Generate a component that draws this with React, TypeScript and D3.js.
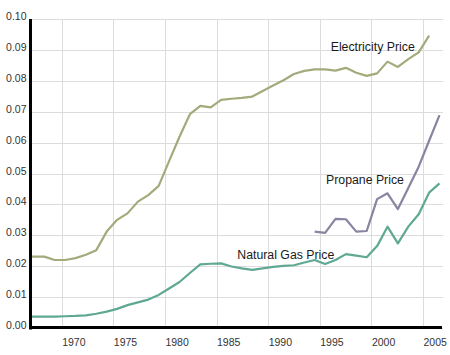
import React from "react";
import * as d3 from "d3";

const elecStart = 1966;
const elecValues = [
  0.0231, 0.0231, 0.0231, 0.022, 0.022, 0.0226, 0.0237, 0.0252, 0.0312, 0.035,
  0.0371, 0.0409, 0.043, 0.046, 0.054, 0.0619, 0.0692, 0.0719, 0.0714, 0.0738,
  0.0742, 0.0745, 0.0749, 0.0767, 0.0785, 0.0802, 0.0822, 0.0832, 0.0837, 0.0837,
  0.0833, 0.0842, 0.0826, 0.0816, 0.0824, 0.0862, 0.0845, 0.087, 0.0892, 0.0946,
];
const gasStart = 1966;
const gasValues = [
  0.0037, 0.0037, 0.0037, 0.0037, 0.0038, 0.0039, 0.0041, 0.0046, 0.0053, 0.0062,
  0.0074, 0.0083, 0.0092, 0.0107, 0.0128, 0.0149, 0.0178, 0.0206, 0.0208, 0.0209,
  0.0199, 0.0193, 0.0188, 0.0193, 0.0198, 0.0201, 0.0203, 0.0212, 0.022, 0.0207,
  0.022, 0.0239, 0.0234, 0.0229, 0.0265, 0.0328, 0.0274, 0.0328, 0.0368, 0.0438,
  0.0468,
];
const propaneStart = 1994;
const propaneValues = [
  0.0312, 0.0308, 0.0353, 0.0352, 0.0312, 0.0314, 0.0417, 0.0436, 0.0385, 0.0453,
  0.0522, 0.0606, 0.0689,
];
const yTicks = [0, 0.01, 0.02, 0.03, 0.04, 0.05, 0.06, 0.07, 0.08, 0.09, 0.1];
const xTicks = [1970, 1975, 1980, 1985, 1990, 1995, 2000, 2005];

const W = 450;
const H = 355;
const left = 30;
const right = 443;
const top = 19;
const bottom = 328;

const xData = d3.scaleLinear().domain([1973, 2005]).range([96.3, 429.1]);
const xGrid = d3.scaleLinear().domain([1970, 2005]).range([61.7, 423]);
const y = d3.scaleLinear().domain([0, 0.1]).range([bottom, top]);

const toPts = (start: number, vals: number[]) =>
  vals.map((v, i) => [start + i, v] as [number, number]);

const line = d3
  .line<[number, number]>()
  .x((d) => xData(d[0]))
  .y((d) => y(d[1]));

const font = "'Liberation Sans', Arial, Helvetica, sans-serif";

export default function App() {
  return (
    <svg
      width={W}
      height={H}
      style={{ position: "absolute", left: 0, top: 0, background: "#fff" }}
    >
      <defs>
        <clipPath id="plot">
          <rect x={left} y={top - 5} width={right - left + 5} height={bottom - top + 5} />
        </clipPath>
      </defs>
      <rect width={W} height={H} fill="#fff" />
      {yTicks.map((t) => (
        <line
          key={"h" + t}
          x1={left}
          x2={right}
          y1={Math.round(y(t)) + 0.5}
          y2={Math.round(y(t)) + 0.5}
          stroke="#dcdcdc"
          strokeWidth={1}
        />
      ))}
      {xTicks.map((t) => (
        <line
          key={"v" + t}
          x1={Math.round(xGrid(t)) + 0.5}
          x2={Math.round(xGrid(t)) + 0.5}
          y1={top}
          y2={bottom}
          stroke="#dcdcdc"
          strokeWidth={1}
        />
      ))}
      <g clipPath="url(#plot)" fill="none" strokeWidth={2.2} strokeLinejoin="round">
        <path d={line(toPts(elecStart, elecValues)) || ""} stroke="#a3ab7c" />
        <path d={line(toPts(gasStart, gasValues)) || ""} stroke="#5fa893" />
        <path d={line(toPts(propaneStart, propaneValues)) || ""} stroke="#8a83a1" />
      </g>
      <line x1={left + 0.5} x2={left + 0.5} y1={top} y2={bottom + 1.5} stroke="#000" strokeWidth={3} />
      <line x1={left - 1} x2={442} y1={bottom - 0.5} y2={bottom - 0.5} stroke="#000" strokeWidth={3} />
      <g fontFamily={font} fontSize={10.5} fill="#333">
        {yTicks.map((t) => (
          <text key={"yl" + t} x={26.5} y={y(t) + 1} textAnchor="end">
            {t.toFixed(2)}
          </text>
        ))}
        {xTicks.map((t) => (
          <text key={"xl" + t} x={xGrid(t) + 0.5} y={346} textAnchor="start">
            {t}
          </text>
        ))}
      </g>
      <g fontFamily={font} fontSize={12.3} fill="#1a1a1a">
        <text x={330.7} y={50.5}>Electricity Price</text>
        <text x={326} y={183.5}>Propane Price</text>
        <text x={237.3} y={258.8}>Natural Gas Price</text>
      </g>
    </svg>
  );
}
